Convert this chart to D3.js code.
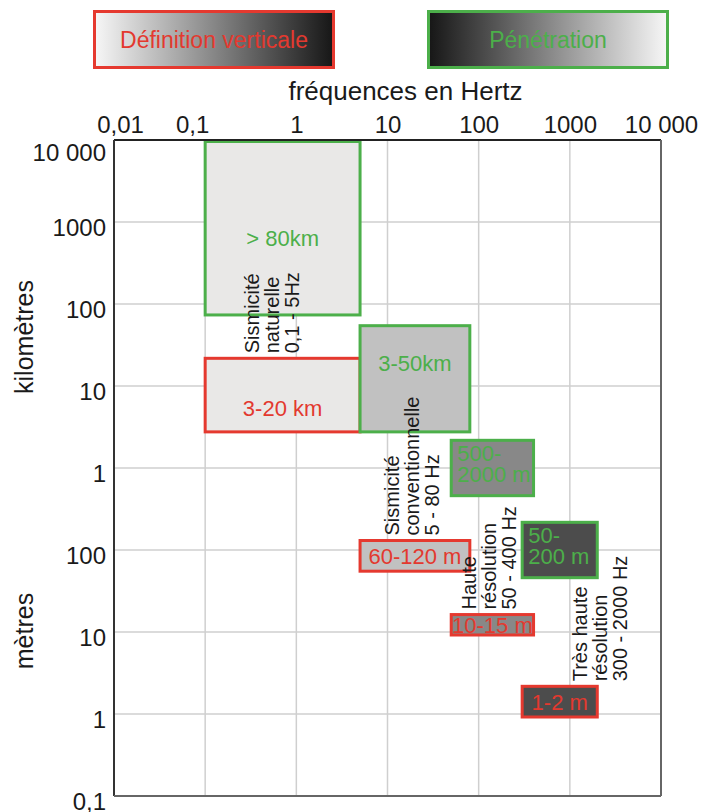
<!DOCTYPE html>
<html>
<head>
<meta charset="utf-8">
<script src="https://cdn.jsdelivr.net/npm/d3@7"></script>
<style>
  html, body { margin: 0; padding: 0; background: #fff; }
  svg { display: block; font-family: "Liberation Sans", Arial, Helvetica, sans-serif; }
</style>
</head>
<body>
<svg id="chart" width="705" height="812"></svg>
<script>
// ---- Data ---------------------------------------------------------------
// Frequency axis (Hz)
const freqTicks = [0.01, 0.1, 1, 10, 100, 1000, 10000];
const freqTickLabels = ["0,01", "0,1", "1", "10", "100", "1000", "10 000"];
// Distance axis, in metres (km above 1000 m, m below)
const distTicks = [1e7, 1e6, 1e5, 1e4, 1e3, 100, 10, 1, 0.1];
const distTickLabels = ["10 000", "1000", "100", "10", "1", "100", "10", "1", "0,1"];

// Seismic methods and their frequency band (Hz)
const methodNames = [
  ["Sismicité", "naturelle", "0,1 - 5Hz"],
  ["Sismicité", "conventionnelle", "5 - 80 Hz"],
  ["Haute", "résolution", "50 - 400 Hz"],
  ["Très haute", "résolution", "300 - 2000 Hz"]
];
const freqMin = [0.1, 5, 50, 300];
const freqMax = [5, 80, 400, 2000];

// Penetration depth (m)
const penetrationMin = [80000, 3000, 500, 50];
const penetrationMax = [1e7, 50000, 2000, 200];
const penetrationLabels = [["> 80km"], ["3-50km"], ["500-", "2000 m"], ["50-", "200 m"]];

// Vertical resolution (m)
const resolutionMin = [3000, 60, 10, 1];
const resolutionMax = [20000, 120, 15, 2];
const resolutionLabels = ["3-20 km", "60-120 m", "10-15 m", "1-2 m"];

const legendLabels = ["Définition verticale", "Pénétration"];
const xTitle = "fréquences en Hertz";
const yTitles = ["kilomètres", "mètres"];

// ---- Styling ------------------------------------------------------------
const RED = "#e5392f", GREEN = "#4caf4a";
const RED_TEXT = "#e3392f", GREEN_TEXT = "#4caf4a";
const shades = ["#e9e8e7", "#c1c1c1", "#888888", "#4c4c4c"];
const GRID = "#cfcfcf";
const BOX_PAD = 3;                       // breathing room around the value range (px)
const methodLabelShift = [-11, -3, -4, 40];
const penLabelFrac = [0.6, 0.43, null, null];   // baseline position inside the box
const resLabelFrac = [0.78, null, null, null];

// ---- Layout -------------------------------------------------------------
const svg = d3.select("#chart");
const M = { left: 114, right: 661, top: 140, bottom: 796 };

const x = d3.scaleLog().domain([0.01, 10000]).range([M.left, M.right]);
const y = d3.scaleLog().domain([0.1, 1e7]).range([M.bottom, M.top]);

// Grid
const grid = svg.append("g");
grid.selectAll("line.v")
  .data(freqTicks.slice(1, -1))
  .join("line")
  .attr("x1", d => x(d)).attr("x2", d => x(d))
  .attr("y1", M.top).attr("y2", M.bottom)
  .attr("stroke", GRID).attr("stroke-width", 1.5);
grid.selectAll("line.h")
  .data(distTicks.slice(1, -1))
  .join("line")
  .attr("x1", M.left).attr("x2", M.right)
  .attr("y1", d => y(d)).attr("y2", d => y(d))
  .attr("stroke", GRID).attr("stroke-width", 1.5);

// Boxes: resolution (red) then penetration (green)
const methods = d3.range(methodNames.length);
function box(fmin, fmax, dmin, dmax) {
  const top = Math.max(M.top + 1.5, y(dmax) - BOX_PAD);
  const bottom = y(dmin) + BOX_PAD;
  return { x: x(fmin), w: x(fmax) - x(fmin), y: top, h: bottom - top };
}
const resBoxes = methods.map(i => box(freqMin[i], freqMax[i], resolutionMin[i], resolutionMax[i]));
const penBoxes = methods.map(i => box(freqMin[i], freqMax[i], penetrationMin[i], penetrationMax[i]));

svg.append("g").selectAll("rect")
  .data(methods)
  .join("rect")
  .attr("x", i => resBoxes[i].x).attr("y", i => resBoxes[i].y)
  .attr("width", i => resBoxes[i].w).attr("height", i => resBoxes[i].h)
  .attr("fill", i => shades[i]).attr("stroke", RED).attr("stroke-width", 3);

svg.append("g").selectAll("rect")
  .data(methods)
  .join("rect")
  .attr("x", i => penBoxes[i].x).attr("y", i => penBoxes[i].y)
  .attr("width", i => penBoxes[i].w).attr("height", i => penBoxes[i].h)
  .attr("fill", i => shades[i]).attr("stroke", GREEN).attr("stroke-width", 3);

// Frame
const frame = svg.append("g").attr("fill", "none");
frame.append("line").attr("x1", M.left).attr("x2", M.right).attr("y1", M.top).attr("y2", M.top)
  .attr("stroke", "#222").attr("stroke-width", 2);
frame.append("line").attr("x1", M.left).attr("x2", M.left).attr("y1", M.top).attr("y2", M.bottom)
  .attr("stroke", "#333").attr("stroke-width", 2);
frame.append("line").attr("x1", M.right).attr("x2", M.right).attr("y1", M.top).attr("y2", M.bottom)
  .attr("stroke", "#666").attr("stroke-width", 2);
frame.append("line").attr("x1", M.left).attr("x2", M.right).attr("y1", M.bottom).attr("y2", M.bottom)
  .attr("stroke", "#666").attr("stroke-width", 2);

// Axes (labels only)
const xAxis = d3.axisTop(x)
  .tickValues(freqTicks)
  .tickFormat((d, i) => freqTickLabels[i])
  .tickSize(0).tickPadding(7);
const gx = svg.append("g").attr("transform", `translate(0,${M.top})`).call(xAxis);
gx.select(".domain").remove();
gx.selectAll("text")
  .attr("font-size", 24).attr("fill", "#1a1a1a")
  .attr("font-family", "Liberation Sans, Arial, sans-serif")
  .attr("dx", (d, i) => (i === 0 ? 6 : i === 1 ? -13 : 0));

const yAxis = d3.axisLeft(y)
  .tickValues(distTicks)
  .tickFormat((d, i) => distTickLabels[i])
  .tickSize(0).tickPadding(8);
const gy = svg.append("g").attr("transform", `translate(${M.left},0)`).call(yAxis);
gy.select(".domain").remove();
gy.selectAll("text")
  .attr("font-size", 24).attr("fill", "#1a1a1a")
  .attr("font-family", "Liberation Sans, Arial, sans-serif")
  .attr("dy", (d, i) => (i === 0 ? "0.84em" : "0.58em"));

// Axis titles
svg.append("text")
  .attr("x", (M.left + M.right) / 2 + 18).attr("y", 100)
  .attr("text-anchor", "middle").attr("font-size", 26).attr("fill", "#1a1a1a")
  .text(xTitle);
const titleY = [(y(1e5) + y(1e4)) / 2 - 8, (y(10) + y(1)) / 2 - 42];
svg.selectAll("text.ytitle")
  .data(yTitles)
  .join("text")
  .attr("class", "ytitle")
  .attr("transform", (d, i) => `translate(33,${titleY[i]}) rotate(-90)`)
  .attr("text-anchor", "middle").attr("font-size", 25).attr("fill", "#1a1a1a")
  .text(d => d);

// Penetration labels (green)
svg.append("g").selectAll("text")
  .data(methods)
  .join("text")
  .attr("fill", GREEN_TEXT).attr("font-size", 22)
  .each(function (i) {
    const b = penBoxes[i];
    const t = d3.select(this);
    const lines = penetrationLabels[i];
    if (lines.length === 1) {
      t.attr("x", b.x + b.w / 2).attr("text-anchor", "middle")
        .attr("y", b.y + b.h * penLabelFrac[i]).text(lines[0]);
    } else {
      t.selectAll("tspan").data(lines).join("tspan")
        .attr("x", b.x + 6).attr("y", (d, k) => b.y + 21 + k * 21)
        .text(d => d);
    }
  });

// Resolution labels (red)
svg.append("g").selectAll("text")
  .data(methods)
  .join("text")
  .attr("fill", RED_TEXT).attr("font-size", 22).attr("text-anchor", "middle")
  .attr("x", i => resBoxes[i].x + resBoxes[i].w / 2)
  .attr("y", i => resLabelFrac[i] != null
      ? resBoxes[i].y + resBoxes[i].h * resLabelFrac[i]
      : resBoxes[i].y + resBoxes[i].h / 2 + 8)
  .text(i => resolutionLabels[i]);

// Method names, rotated, sitting just above each resolution box
svg.append("g").selectAll("text")
  .data(methods)
  .join("text")
  .attr("font-size", 20).attr("fill", "#1a1a1a")
  .each(function (i) {
    const b = resBoxes[i];
    const cx = b.x + b.w / 2 + methodLabelShift[i];
    const y0 = b.y - 5;
    d3.select(this).selectAll("tspan")
      .data(methodNames[i])
      .join("tspan")
      .attr("x", -y0)
      .attr("y", (d, k) => cx + 7.5 + (k - 1) * 20)
      .text(d => d);
    d3.select(this).attr("transform", "rotate(-90)");
  });

// Legend
const defs = svg.append("defs");
const gradA = defs.append("linearGradient").attr("id", "gradRes");
gradA.append("stop").attr("offset", "0%").attr("stop-color", "#f7f7f7");
gradA.append("stop").attr("offset", "100%").attr("stop-color", "#161616");
const gradB = defs.append("linearGradient").attr("id", "gradPen");
gradB.append("stop").attr("offset", "0%").attr("stop-color", "#161616");
gradB.append("stop").attr("offset", "100%").attr("stop-color", "#f7f7f7");

const legend = [
  { label: legendLabels[0], x0: 94.5, fill: "url(#gradRes)", stroke: RED, color: RED_TEXT },
  { label: legendLabels[1], x0: 428.5, fill: "url(#gradPen)", stroke: GREEN, color: GREEN_TEXT }
];
const lg = svg.append("g").selectAll("g").data(legend).join("g");
lg.append("rect")
  .attr("x", d => d.x0).attr("y", 11.5).attr("width", 239).attr("height", 56)
  .attr("fill", d => d.fill).attr("stroke", d => d.stroke).attr("stroke-width", 3);
lg.append("text")
  .attr("x", d => d.x0 + 119.5).attr("y", 47.5)
  .attr("text-anchor", "middle").attr("font-size", 23)
  .attr("fill", d => d.color)
  .text(d => d.label);
</script>
</body>
</html>
